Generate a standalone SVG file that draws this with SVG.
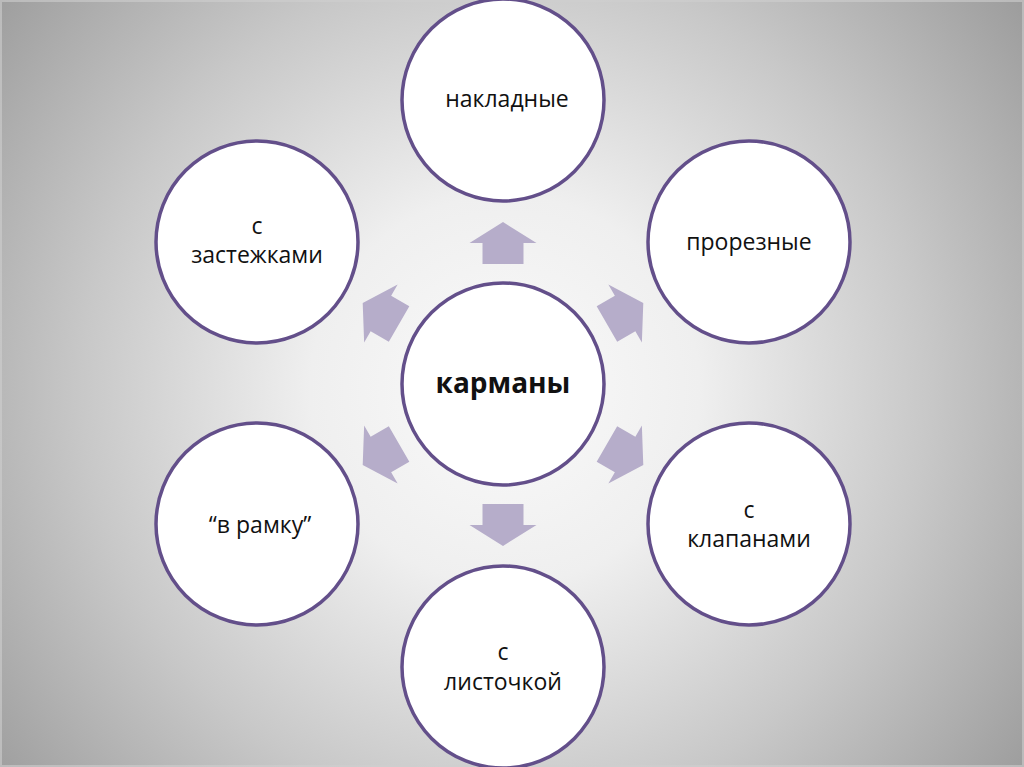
<svg xmlns="http://www.w3.org/2000/svg" width="1024" height="767" viewBox="0 0 1024 767">
  <defs>
    <radialGradient id="bg" gradientUnits="userSpaceOnUse" cx="505" cy="390" r="650">
      <stop offset="0" stop-color="#fafafa"/>
      <stop offset="0.3" stop-color="#efefef"/>
      <stop offset="0.65" stop-color="#c8c8c8"/>
      <stop offset="1" stop-color="#9c9c9c"/>
    </radialGradient>
    <path id="arr" d="M0,-162 L33.5,-141 L20.5,-141 L20.5,-120 L-20.5,-120 L-20.5,-141 L-33.5,-141 Z"/>
  </defs>
  <style>
    .node circle { fill: #ffffff; stroke: #634f8a; stroke-width: 3.5; }
    .node text { font-family: "Open Sans", "Liberation Sans", sans-serif; font-size: 23px; fill: #111111; text-anchor: middle; }
    .node text.main { font-weight: bold; font-size: 28px; }
    #connectors use { fill: #b6adca; }
  </style>
  <rect x="0" y="0" width="1024" height="767" fill="url(#bg)"/>
  <rect x="1" y="1" width="1022" height="765" fill="none" stroke="#cfcfcf" stroke-width="2" opacity="0.6"/>

  <g id="connectors" transform="translate(503,384)">
    <use href="#arr" transform="rotate(0)"/>
    <use href="#arr" transform="rotate(60)"/>
    <use href="#arr" transform="rotate(120)"/>
    <use href="#arr" transform="rotate(180)"/>
    <use href="#arr" transform="rotate(240)"/>
    <use href="#arr" transform="rotate(300)"/>
  </g>

  <g id="node-center" class="node">
    <circle cx="503" cy="384" r="101"/>
    <text class="main" x="503" y="393">карманы</text>
  </g>
  <g id="node-top" class="node">
    <circle cx="503" cy="100" r="101"/>
    <text x="507" y="107">накладные</text>
  </g>
  <g id="node-upper-right" class="node">
    <circle cx="749" cy="242" r="101"/>
    <text x="749" y="250">прорезные</text>
  </g>
  <g id="node-lower-right" class="node">
    <circle cx="749" cy="524" r="101"/>
    <text x="749" y="518">с</text>
    <text x="749" y="547">клапанами</text>
  </g>
  <g id="node-bottom" class="node">
    <circle cx="503" cy="667" r="101"/>
    <text x="503" y="660">с</text>
    <text x="503" y="690">листочкой</text>
  </g>
  <g id="node-lower-left" class="node">
    <circle cx="257" cy="524" r="101"/>
    <text x="260" y="533">“в рамку”</text>
  </g>
  <g id="node-upper-left" class="node">
    <circle cx="257" cy="242" r="101"/>
    <text x="257" y="234">с</text>
    <text x="257" y="263">застежками</text>
  </g>
</svg>
